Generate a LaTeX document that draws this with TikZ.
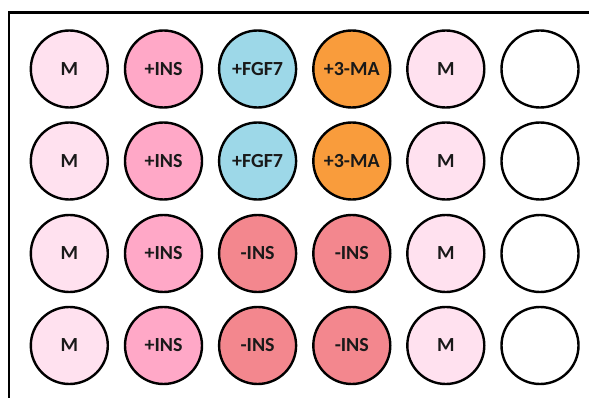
\documentclass[tikz,border=0pt]{standalone}
\usepackage{fontspec}
\setmainfont{Carlito}
\definecolor{cM}{HTML}{FFE1EF}
\definecolor{cINS}{HTML}{FFA8C7}
\definecolor{cFGF}{HTML}{9DD8E8}
\definecolor{cMA}{HTML}{F99C3C}
\definecolor{cNEG}{HTML}{F3878E}
\begin{document}
\begin{tikzpicture}[x=1pt,y=-1pt,
  well/.style={circle,draw=black,line width=2.4pt,minimum size=77pt,inner sep=0pt,
    font=\fontsize{20}{20}\selectfont\bfseries,text=black!90}]
\useasboundingbox (0,0) rectangle (589,398);
\clip (0,0) rectangle (589,398);
\fill[white] (0,0) rectangle (589,398);
\draw[line width=2.4pt] (9,12.5) rectangle (620,430);
\foreach \r/\y in {1/69,2/161,3/253.5,4/345.5}{
  \foreach \c/\x in {1/69.3,2/163.5,3/257.6,4/351.8,5/445.8,6/540}{
    \coordinate (p-\r-\c) at (\x,\y);
  }
}
% row 1
\node[well,fill=cM]   (w-1-1) at (p-1-1) {M};
\node[well,fill=cINS] (w-1-2) at (p-1-2) {+INS};
\node[well,fill=cFGF] (w-1-3) at (p-1-3) {+FGF7};
\node[well,fill=cMA]  (w-1-4) at (p-1-4) {+3-MA};
\node[well,fill=cM]   (w-1-5) at (p-1-5) {M};
\node[well,fill=white](w-1-6) at (p-1-6) {};
% row 2
\node[well,fill=cM]   (w-2-1) at (p-2-1) {M};
\node[well,fill=cINS] (w-2-2) at (p-2-2) {+INS};
\node[well,fill=cFGF] (w-2-3) at (p-2-3) {+FGF7};
\node[well,fill=cMA]  (w-2-4) at (p-2-4) {+3-MA};
\node[well,fill=cM]   (w-2-5) at (p-2-5) {M};
\node[well,fill=white](w-2-6) at (p-2-6) {};
% row 3
\node[well,fill=cM]   (w-3-1) at (p-3-1) {M};
\node[well,fill=cINS] (w-3-2) at (p-3-2) {+INS};
\node[well,fill=cNEG] (w-3-3) at (p-3-3) {-INS};
\node[well,fill=cNEG] (w-3-4) at (p-3-4) {-INS};
\node[well,fill=cM]   (w-3-5) at (p-3-5) {M};
\node[well,fill=white](w-3-6) at (p-3-6) {};
% row 4
\node[well,fill=cM]   (w-4-1) at (p-4-1) {M};
\node[well,fill=cINS] (w-4-2) at (p-4-2) {+INS};
\node[well,fill=cNEG] (w-4-3) at (p-4-3) {-INS};
\node[well,fill=cNEG] (w-4-4) at (p-4-4) {-INS};
\node[well,fill=cM]   (w-4-5) at (p-4-5) {M};
\node[well,fill=white](w-4-6) at (p-4-6) {};
\end{tikzpicture}
\end{document}
